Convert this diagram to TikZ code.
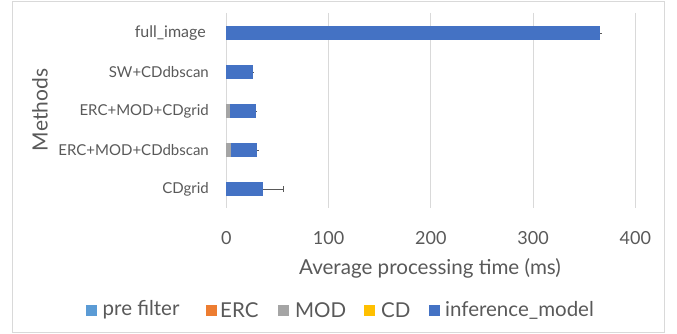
\documentclass[tikz,border=0pt]{standalone}
\usepackage{fontspec}
\setmainfont{Lato}
\definecolor{txtgray}{HTML}{595959}
\definecolor{gridgray}{HTML}{D9D9D9}
\definecolor{prefilter}{HTML}{5B9BD5}
\definecolor{erc}{HTML}{ED7D31}
\definecolor{mod}{HTML}{A5A5A5}
\definecolor{cd}{HTML}{FFC000}
\definecolor{infer}{HTML}{4472C4}
\tikzset{
  catlabel/.style={anchor=east,text=txtgray,font=\fontsize{15}{17}\selectfont,inner sep=0pt},
  ticklabel/.style={text=txtgray,font=\fontsize{18}{20}\selectfont,inner sep=0pt},
  legkey/.style={minimum size=11pt,inner sep=0pt},
  legtext/.style={anchor=west,text=txtgray,font=\fontsize{20.5}{22}\selectfont,inner sep=0pt},
  errbar/.style={line width=0.7pt,color=txtgray}
}
\begin{document}
\begin{tikzpicture}[x=1pt,y=-1pt]
\useasboundingbox (0,0) rectangle (677,334);
\draw [line width=0.8pt,color=gridgray] (12.5,1.5) rectangle (664.5,332.5);
% plot area, x in ms
\begin{scope}[shift={(226.3,0)},x=1.0225pt]
\foreach \v in {0,100,...,400} {
  \draw [line width=0.8pt,color=gridgray] (\v,13)-- (\v,208);
  \node [ticklabel] (tick\v) at (\v,238) {\v};
}
% full_image
\fill [infer] (0,26) rectangle (365.5,40);
\draw [errbar] (365.5,33)-- (367,33);
% SW+CDdbscan
\fill [infer] (0,65) rectangle (25.8,79);
\draw [errbar] (25.8,72)-- (27,72);
% ERC+MOD+CDgrid
\fill [mod] (0,104) rectangle (3.6,118);
\fill [infer] (3.6,104) rectangle (29,118);
\draw [errbar] (29,111)-- (30.5,111);
% ERC+MOD+CDdbscan
\fill [mod] (0,143) rectangle (4.6,157);
\fill [infer] (4.6,143) rectangle (30,157);
\draw [errbar] (30,150)-- (31.5,150);
% CDgrid
\fill [infer] (0,182) rectangle (35.6,196);
\draw [errbar] (35.6,189)-- (55.7,189);
\draw [errbar] (55.7,186)-- (55.7,192);
\end{scope}
\node [catlabel,font=\fontsize{16}{18}\selectfont] (full) at (206,33) {full\_image};
\node [catlabel] (sw) at (209,72) {SW+CDdbscan};
\node [catlabel] (ercgrid) at (209,111) {ERC+MOD+CDgrid};
\node [catlabel] (ercdb) at (209,150) {ERC+MOD+CDdbscan};
\node [catlabel] (cdgrid) at (209,189) {CDgrid};
\node [rotate=90,text=txtgray,font=\fontsize{21}{23}\selectfont,inner sep=0pt] (ytitle) at (40,110) {Methods};
\node [text=txtgray,font=\fontsize{20.6}{22}\selectfont,inner sep=0pt] (xtitle) at (430,268) {Average processing time (ms)};
% legend
\node [legkey,fill=prefilter] (kpre) at (91,310) {};
\node [legtext] (tpre) at (102.5,310) {pre filter};
\node [legkey,fill=erc] (kerc) at (211,310) {};
\node [legtext] (terc) at (220,310) {ERC};
\node [legkey,fill=mod] (kmod) at (283,310) {};
\node [legtext] (tmod) at (295,310) {MOD};
\node [legkey,fill=cd] (kcd) at (369,310) {};
\node [legtext] (tcd) at (381,310) {CD};
\node [legkey,fill=infer] (kinf) at (434,310) {};
\node [legtext] (tinf) at (445,310) {inference\_model};
\end{tikzpicture}
\end{document}
